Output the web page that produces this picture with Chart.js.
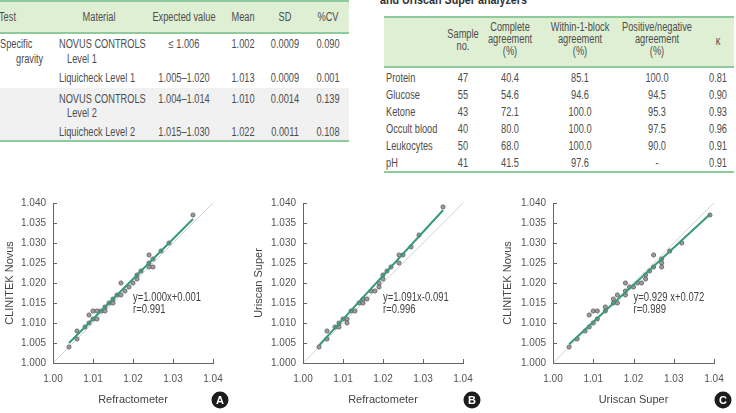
<!DOCTYPE html>
<html>
<head>
<meta charset="utf-8">
<script src="https://cdn.jsdelivr.net/npm/chart.js@4/dist/chart.umd.min.js"></script>
<style>
body{margin:0;width:736px;height:413px;overflow:hidden;background:#fff;position:relative;
  font-family:"Liberation Sans",Arial,sans-serif;color:#4d4d4d;}
.t{position:absolute;font-size:12px;line-height:14px;white-space:nowrap}
.c{transform:translate(-50%,-50%) scaleX(.77);transform-origin:50% 50%}
.l{transform:translate(0,-50%) scaleX(.77);transform-origin:0 50%}
.r{position:absolute}
.plot{position:absolute;top:190px;height:223px}
.badge{position:absolute;width:17px;height:17px;border-radius:50%;background:#1c1c1c;color:#fff;
  font:bold 11px "Liberation Sans",sans-serif;text-align:center;line-height:17px;transform:translate(-50%,-50%)}
.cap{position:absolute;left:380px;top:-8px;font-size:12.5px;font-weight:bold;color:#333;white-space:nowrap;line-height:16px;
  transform:scaleX(.86);transform-origin:0 50%}
</style>
</head>
<body>
<!-- table backgrounds and rules -->
<div class="r" style="left:0;top:0;width:349px;height:33px;background:#dfefd3"></div>
<div class="r" style="left:0;top:88px;width:349px;height:53px;background:#f1f1f1"></div>
<div class="r" style="left:0;top:0;width:349px;height:1.5px;background:#8dcb9c"></div>
<div class="r" style="left:0;top:32px;width:349px;height:2px;background:#8dcb9c"></div>
<div class="r" style="left:0;top:140px;width:349px;height:2px;background:#8dcb9c"></div>

<div class="cap">and Uriscan Super analyzers</div>
<div class="r" style="left:384px;top:17px;width:350px;height:50px;background:#dfefd3"></div>
<div class="r" style="left:384px;top:16px;width:350px;height:2px;background:#8dcb9c"></div>
<div class="r" style="left:384px;top:66px;width:350px;height:2px;background:#8dcb9c"></div>
<div class="r" style="left:384px;top:171px;width:350px;height:2px;background:#8dcb9c"></div>

<div id="cells"></div>

<div class="plot" style="left:0;width:245px"><canvas id="chartA" width="245" height="223"></canvas></div>
<div class="plot" style="left:245px;width:245px"><canvas id="chartB" width="245" height="223"></canvas></div>
<div class="plot" style="left:490px;width:246px"><canvas id="chartC" width="246" height="223"></canvas></div>
<div class="badge" style="left:220px;top:400px">A</div>
<div class="badge" style="left:472px;top:400px">B</div>
<div class="badge" style="left:723px;top:400px">C</div>

<script>
// tick labels
const xTicks = [1.00, 1.01, 1.02, 1.03, 1.04];
const yTicks = [1.000, 1.005, 1.010, 1.015, 1.020, 1.025, 1.030, 1.035, 1.040];

// A: Refractometer vs CLINITEK Novus
const refA  = [1.004,1.006,1.006,1.008,1.009,1.009,1.010,1.010,1.011,1.011,1.012,1.013,1.013,1.014,1.015,1.015,1.016,1.017,1.017,1.018,1.019,1.020,1.021,1.021,1.022,1.024,1.024,1.024,1.025,1.025,1.027,1.029,1.035];
const clinA = [1.004,1.008,1.006,1.009,1.012,1.010,1.011,1.013,1.013,1.011,1.013,1.014,1.013,1.015,1.016,1.015,1.017,1.017,1.020,1.018,1.019,1.020,1.021,1.022,1.023,1.024,1.025,1.027,1.026,1.024,1.028,1.030,1.037];
const fitAx = [1.004, 1.035];
const fitAy = [1.005, 1.036];

// B: Refractometer vs Uriscan Super
const refB = [1.004,1.006,1.006,1.008,1.009,1.009,1.010,1.011,1.011,1.012,1.013,1.014,1.015,1.015,1.016,1.017,1.018,1.019,1.019,1.020,1.020,1.021,1.022,1.024,1.024,1.025,1.027,1.029,1.035];
const uriB = [1.004,1.008,1.006,1.009,1.009,1.010,1.011,1.011,1.010,1.013,1.013,1.015,1.015,1.016,1.016,1.018,1.018,1.019,1.020,1.021,1.022,1.023,1.024,1.025,1.027,1.027,1.029,1.032,1.039];
const fitBx = [1.004, 1.035];
const fitBy = [1.0044, 1.0382];

// C: Uriscan Super vs CLINITEK Novus
const uriC  = [1.004,1.006,1.008,1.009,1.009,1.010,1.010,1.011,1.011,1.013,1.013,1.015,1.015,1.016,1.016,1.018,1.018,1.018,1.019,1.020,1.021,1.022,1.023,1.023,1.024,1.025,1.025,1.027,1.027,1.027,1.029,1.032,1.039];
const clinC = [1.004,1.006,1.008,1.009,1.012,1.010,1.013,1.013,1.011,1.014,1.013,1.016,1.015,1.015,1.017,1.017,1.018,1.020,1.019,1.019,1.020,1.020,1.021,1.022,1.023,1.024,1.027,1.026,1.025,1.024,1.028,1.030,1.037];
const fitCx = [1.004, 1.039];
const fitCy = [1.0047, 1.0372];

const identity = [1.00, 1.04];

// tables: [x, y, text, align]
const cells = [
  [-1,17,'Test','l'],[99,17,'Material','c'],[184,17,'Expected value','c'],[243,17,'Mean','c'],[285,17,'SD','c'],[328,17,'%CV','c'],
  [0,44,'Specific','l'],[16,59,'gravity','l'],[59,44,'NOVUS CONTROLS','l'],[67,59,'Level 1','l'],
  [184,44,'≤ 1.006','c'],[243,44,'1.002','c'],[285,44,'0.0009','c'],[328,44,'0.090','c'],
  [59,78,'Liquicheck Level 1','l'],[184,78,'1.005–1.020','c'],[243,78,'1.013','c'],[285,78,'0.0009','c'],[328,78,'0.001','c'],
  [59,99,'NOVUS CONTROLS','l'],[67,113,'Level 2','l'],[184,99,'1.004–1.014','c'],[243,99,'1.010','c'],[285,99,'0.0014','c'],[328,99,'0.139','c'],
  [59,132,'Liquicheck Level 2','l'],[184,132,'1.015–1.030','c'],[243,132,'1.022','c'],[285,132,'0.0011','c'],[328,132,'0.108','c'],

  [463,34,'Sample','c'],[463,46,'no.','c'],
  [510,27,'Complete','c'],[510,39,'agreement','c'],[510,51,'(%)','c'],
  [580,27,'Within-1-block','c'],[580,39,'agreement','c'],[580,51,'(%)','c'],
  [657,27,'Positive/negative','c'],[657,39,'agreement','c'],[657,51,'(%)','c'],
  [718,41,'κ','c']
];
const rowNames = ['Protein','Glucose','Ketone','Occult blood','Leukocytes','pH'];
const sampleNo = ['47','55','43','40','50','41'];
const complete = ['40.4','54.6','72.1','80.0','68.0','41.5'];
const within1  = ['85.1','94.6','100.0','100.0','100.0','97.6'];
const posNeg   = ['100.0','94.5','95.3','97.5','90.0','-'];
const kappa    = ['0.81','0.90','0.93','0.96','0.91','0.91'];
rowNames.forEach((n, i) => {
  const y = 78 + i * 17;
  cells.push([386,y,n,'l'],[463,y,sampleNo[i],'c'],[510,y,complete[i],'c'],[580,y,within1[i],'c'],[657,y,posNeg[i],'c'],[718,y,kappa[i],'c']);
});
const host = document.getElementById('cells');
cells.forEach(([x, y, txt, al]) => {
  const d = document.createElement('div');
  d.className = 't ' + al;
  d.style.left = x + 'px';
  d.style.top = y + 'px';
  d.textContent = txt;
  host.appendChild(d);
});

const FONT = '"Liberation Sans",Arial,sans-serif';

// small ticks pointing into the plot, and the equation text
const innerTicks = {
  id: 'innerTicks',
  afterDraw(chart) {
    const {ctx, chartArea: a, scales: {x, y}} = chart;
    ctx.save();
    ctx.strokeStyle = '#666';
    ctx.lineWidth = 1;
    ctx.beginPath();
    x.ticks.forEach((t, i) => {
      const px = Math.round(x.getPixelForTick(i)) + 0.5;
      ctx.moveTo(px, a.bottom); ctx.lineTo(px, a.bottom - 4);
    });
    y.ticks.forEach((t, i) => {
      const py = Math.round(y.getPixelForTick(i)) + 0.5;
      ctx.moveTo(a.left, py); ctx.lineTo(a.left + 4, py);
    });
    ctx.stroke();
    ctx.restore();
  }
};
const eqLabel = {
  id: 'eqLabel',
  afterDatasetsDraw(chart, args, opts) {
    const {ctx, scales: {x, y}} = chart;
    const put = (txt, yv) => {
      ctx.save();
      ctx.translate(x.getPixelForValue(1.0200), y.getPixelForValue(yv));
      ctx.scale(0.76, 1);
      ctx.fillText(txt, 0, 0);
      ctx.restore();
    };
    ctx.save();
    ctx.fillStyle = '#444';
    ctx.font = '12.5px ' + FONT;
    ctx.textBaseline = 'middle';
    put(opts.eq, 1.0164);
    put(opts.r, 1.0134);
    ctx.restore();
  }
};

function makeChart(id, xs, ys, fx, fy, xTitle, yTitle, eq, r, axisW, titlePad, padRight) {
  new Chart(document.getElementById(id), {
    type: 'scatter',
    data: {
      datasets: [
        {type: 'line', data: fx.map((v, i) => ({x: v, y: fy[i]})), borderColor: '#36997a', borderWidth: 2, pointRadius: 0, order: 0},
        {data: xs.map((v, i) => ({x: v, y: ys[i]})), pointRadius: 2.1, backgroundColor: '#9c9c9c', borderColor: '#5a5a5a', borderWidth: 0.8, order: 1},
        {type: 'line', data: identity.map(v => ({x: v, y: v})), borderColor: '#d4d4d4', borderWidth: 1, pointRadius: 0, order: 2}
      ]
    },
    options: {
      responsive: false,
      animation: false,
      layout: {padding: {top: 13, right: padRight, left: 0, bottom: 0}},
      plugins: {legend: {display: false}, tooltip: {enabled: false}, eqLabel: {eq: eq, r: r}},
      scales: {
        x: {
          type: 'linear', min: 1.00, max: 1.04,
          afterBuildTicks: s => { s.ticks = xTicks.map(v => ({value: v})); },
          afterFit: s => { s.height = 50; },
          ticks: {callback: v => v.toFixed(2), color: '#555', padding: 10, font: {family: FONT, size: 10}},
          grid: {drawOnChartArea: false, drawTicks: false},
          border: {color: '#666', width: 1},
          title: {display: true, text: xTitle, color: '#444', font: {family: FONT, size: 11}, padding: {top: 0, bottom: 6}}
        },
        y: {
          type: 'linear', min: 1.000, max: 1.040,
          afterBuildTicks: s => { s.ticks = yTicks.map(v => ({value: v})); },
          afterFit: s => { s.width = axisW; },
          ticks: {callback: v => v.toFixed(3), color: '#555', padding: 7, font: {family: FONT, size: 10}},
          grid: {drawOnChartArea: false, drawTicks: false},
          border: {color: '#666', width: 1},
          title: {display: true, text: yTitle, color: '#444', font: {family: FONT, size: 11}, padding: {top: titlePad, bottom: 0}}
        }
      }
    },
    plugins: [innerTicks, eqLabel]
  });
}

makeChart('chartA', refA, clinA, fitAx, fitAy, 'Refractometer', 'CLINITEK Novus', 'y=1.000x+0.001', 'r=0.991', 53, 3, 32);
makeChart('chartB', refB, uriB, fitBx, fitBy, 'Refractometer', 'Uriscan Super', 'y=1.091x-0.091', 'r=0.996', 58, 7, 27);
makeChart('chartC', uriC, clinC, fitCx, fitCy, 'Uriscan Super', 'CLINITEK Novus', 'y=0.929 x+0.072', 'r=0.989', 63, 11, 22);
</script>
</body>
</html>
